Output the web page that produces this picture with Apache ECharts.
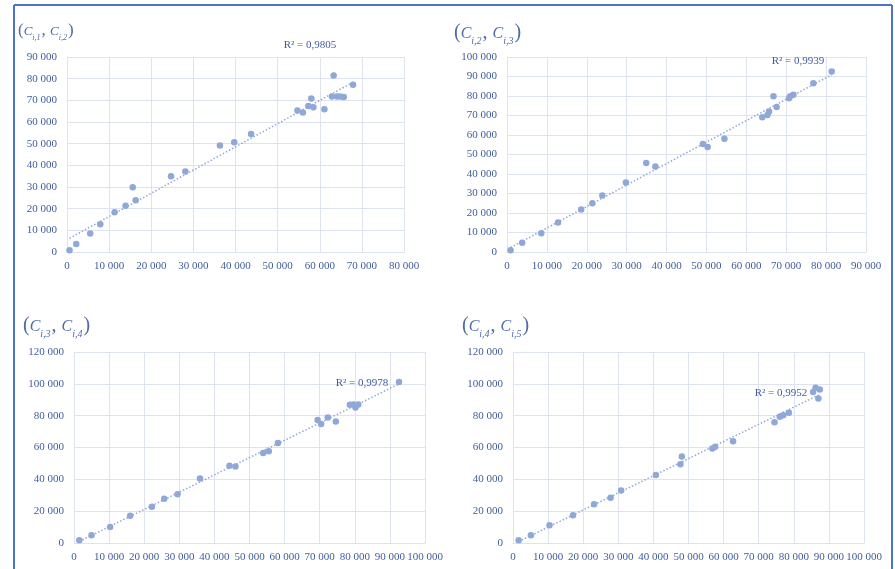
<!DOCTYPE html>
<html>
<head>
<meta charset="utf-8">
<script src="https://cdn.jsdelivr.net/npm/echarts@6/dist/echarts.min.js"></script>
<style>
html,body{margin:0;padding:0;background:#fff;}
#main{width:895px;height:569px;}
</style>
</head>
<body>
<div id="main"></div>
<script>
// Panel 1: (C_{i,1}, C_{i,2})
const p1x = [600, 2200, 5500, 7900, 11300, 13900, 15600, 16300, 24700, 28100, 36300, 39700, 43700, 54700, 56000, 57300, 58000, 58500, 61100, 63300, 62900, 64100, 64900, 65700, 67900];
const p1y = [800, 3700, 8500, 12800, 18400, 21300, 29900, 23900, 35000, 37200, 49200, 50600, 54500, 65300, 64400, 67400, 70800, 66800, 65900, 81500, 71800, 71800, 71800, 71500, 77200];
// Panel 2: (C_{i,2}, C_{i,3})
const p2x = [900, 3800, 8600, 12800, 18600, 21400, 23900, 29800, 34900, 37200, 49100, 50300, 54500, 64000, 65300, 65700, 66800, 67600, 70700, 71000, 71800, 76800, 81400];
const p2y = [900, 4800, 9600, 15100, 21800, 25000, 29000, 35700, 45600, 43800, 55400, 53900, 58100, 69100, 70200, 72000, 79900, 74400, 78900, 79900, 80600, 86600, 92600];
// Panel 3: (C_{i,3}, C_{i,4})
const p3x = [1500, 5000, 10300, 16000, 22200, 25700, 29500, 35900, 44300, 46000, 53900, 55500, 58100, 69400, 70400, 72300, 74600, 78600, 79600, 80200, 81000, 92600];
const p3y = [1700, 4800, 10000, 17100, 22800, 27800, 30700, 40500, 48600, 48000, 56600, 57600, 62800, 77200, 74700, 78900, 76400, 86800, 87000, 85200, 87000, 101200];
// Panel 4: (C_{i,4}, C_{i,5})
const p4x = [1600, 5100, 10400, 17100, 23100, 27800, 30800, 40700, 47700, 48100, 56800, 57600, 62700, 74500, 76000, 77000, 78600, 85500, 86200, 87400, 87000];
const p4y = [1700, 4800, 11100, 17500, 24400, 28400, 33000, 42800, 49500, 54300, 59300, 60500, 63900, 75800, 79300, 80200, 81800, 94800, 97500, 96500, 90800];

const titles = [['1','2'], ['2','3'], ['3','4'], ['4','5']];
const r2Labels = ['R² = 0,9805', 'R² = 0,9939', 'R² = 0,9978', 'R² = 0,9952'];
const xMax = [80000, 90000, 100000, 100000];
const yMax = [90000, 100000, 120000, 120000];
const yInt = [10000, 10000, 20000, 20000];

const TEXT = '#3F5E9E';
const PT = '#8FA8D8';
const GRID = '#DDE3EF';
const FONT = 'Liberation Serif';

const grids = [
  {left: 67, top: 57, width: 337, height: 195},
  {left: 507, top: 57, width: 359, height: 195},
  {left: 74, top: 352, width: 351, height: 191},
  {left: 513, top: 352, width: 351, height: 191}
];
const titlePos = [[18, 22], [454, 23], [23, 316], [462, 316]];
const titleSize = [13, 16, 16, 16];
const r2Pos = [[310, 45], [798, 61], [362, 383], [781, 393]];

const data = [[p1x, p1y], [p2x, p2y], [p3x, p3y], [p4x, p4y]];

function fmt(v) {
  return String(v).replace(/\B(?=(\d{3})+(?!\d))/g, ' ');
}
function fit(xs, ys) {
  const n = xs.length;
  let sx = 0, sy = 0, sxx = 0, sxy = 0;
  for (let i = 0; i < n; i++) { sx += xs[i]; sy += ys[i]; sxx += xs[i]*xs[i]; sxy += xs[i]*ys[i]; }
  const b = (n*sxy - sx*sy) / (n*sxx - sx*sx);
  const a = (sy - b*sx) / n;
  const x0 = Math.min(...xs), x1 = Math.max(...xs);
  return [[x0, a + b*x0], [x1, a + b*x1]];
}

const xAxis = [], yAxis = [], series = [], title = [], graphic = [];
for (let k = 0; k < 4; k++) {
  xAxis.push({
    type: 'value', gridIndex: k, min: 0, max: xMax[k], interval: 10000,
    axisLine: {show: true, lineStyle: {color: GRID}},
    axisTick: {show: false},
    splitLine: {show: true, lineStyle: {color: GRID, width: 1}},
    axisLabel: {color: TEXT, fontFamily: FONT, fontSize: 11, margin: 9, formatter: fmt}
  });
  yAxis.push({
    type: 'value', gridIndex: k, min: 0, max: yMax[k], interval: yInt[k],
    axisLine: {show: true, lineStyle: {color: GRID}},
    axisTick: {show: false},
    splitLine: {show: true, lineStyle: {color: GRID, width: 1}},
    axisLabel: {color: TEXT, fontFamily: FONT, fontSize: 11, margin: 10, formatter: fmt}
  });
  const [xs, ys] = data[k];
  series.push({
    type: 'line', xAxisIndex: k, yAxisIndex: k, data: fit(xs, ys),
    showSymbol: false, silent: true, z: 2,
    lineStyle: {color: PT, width: 1.5, type: [1.5, 2]}
  });
  series.push({
    type: 'scatter', xAxisIndex: k, yAxisIndex: k,
    data: xs.map((x, i) => [x, ys[i]]),
    symbolSize: 6.5, z: 3,
    itemStyle: {color: PT, opacity: 1}
  });
  const fs = titleSize[k];
  title.push({
    left: titlePos[k][0], top: titlePos[k][1], padding: 0,
    text: '{p|(}{c|C}{s|i,' + titles[k][0] + '}{p|, }{c|C}{s|i,' + titles[k][1] + '}{p|)}',
    textStyle: {
      fontWeight: 'normal',
      rich: {
        p: {fontFamily: FONT, fontWeight: 'normal', fontSize: fs + 4, color: '#4F6CA8', lineHeight: fs + 7, verticalAlign: 'top'},
        c: {fontFamily: FONT, fontWeight: 'normal', fontStyle: 'italic', fontSize: fs, color: '#4F6CA8', lineHeight: fs + 7, verticalAlign: 'top', padding: [3, 0, 0, 0]},
        s: {fontFamily: FONT, fontWeight: 'normal', fontStyle: 'italic', fontSize: Math.round(fs * 0.6), color: '#4F6CA8', lineHeight: fs + 7, verticalAlign: 'bottom', padding: [0, 1, 0, 0]}
      }
    }
  });
  graphic.push({
    type: 'text', x: r2Pos[k][0], y: r2Pos[k][1], z: 10,
    style: {text: r2Labels[k], fill: TEXT, font: '11px "' + FONT + '"', textAlign: 'center', textVerticalAlign: 'middle'}
  });
}
// Frame lines
graphic.push({type: 'line', shape: {x1: 14, y1: 5, x2: 892, y2: 5}, style: {stroke: '#4A74C8', lineWidth: 2}});
graphic.push({type: 'line', shape: {x1: 14, y1: 5, x2: 14, y2: 569}, style: {stroke: '#4A74C8', lineWidth: 2}});
graphic.push({type: 'line', shape: {x1: 892, y1: 5, x2: 892, y2: 569}, style: {stroke: '#4A74C8', lineWidth: 2}});

const chart = echarts.init(document.getElementById('main'), null, {renderer: 'canvas'});
chart.setOption({
  animation: false,
  backgroundColor: '#fff',
  title, grid: grids, xAxis, yAxis, series, graphic
});
</script>
</body>
</html>
